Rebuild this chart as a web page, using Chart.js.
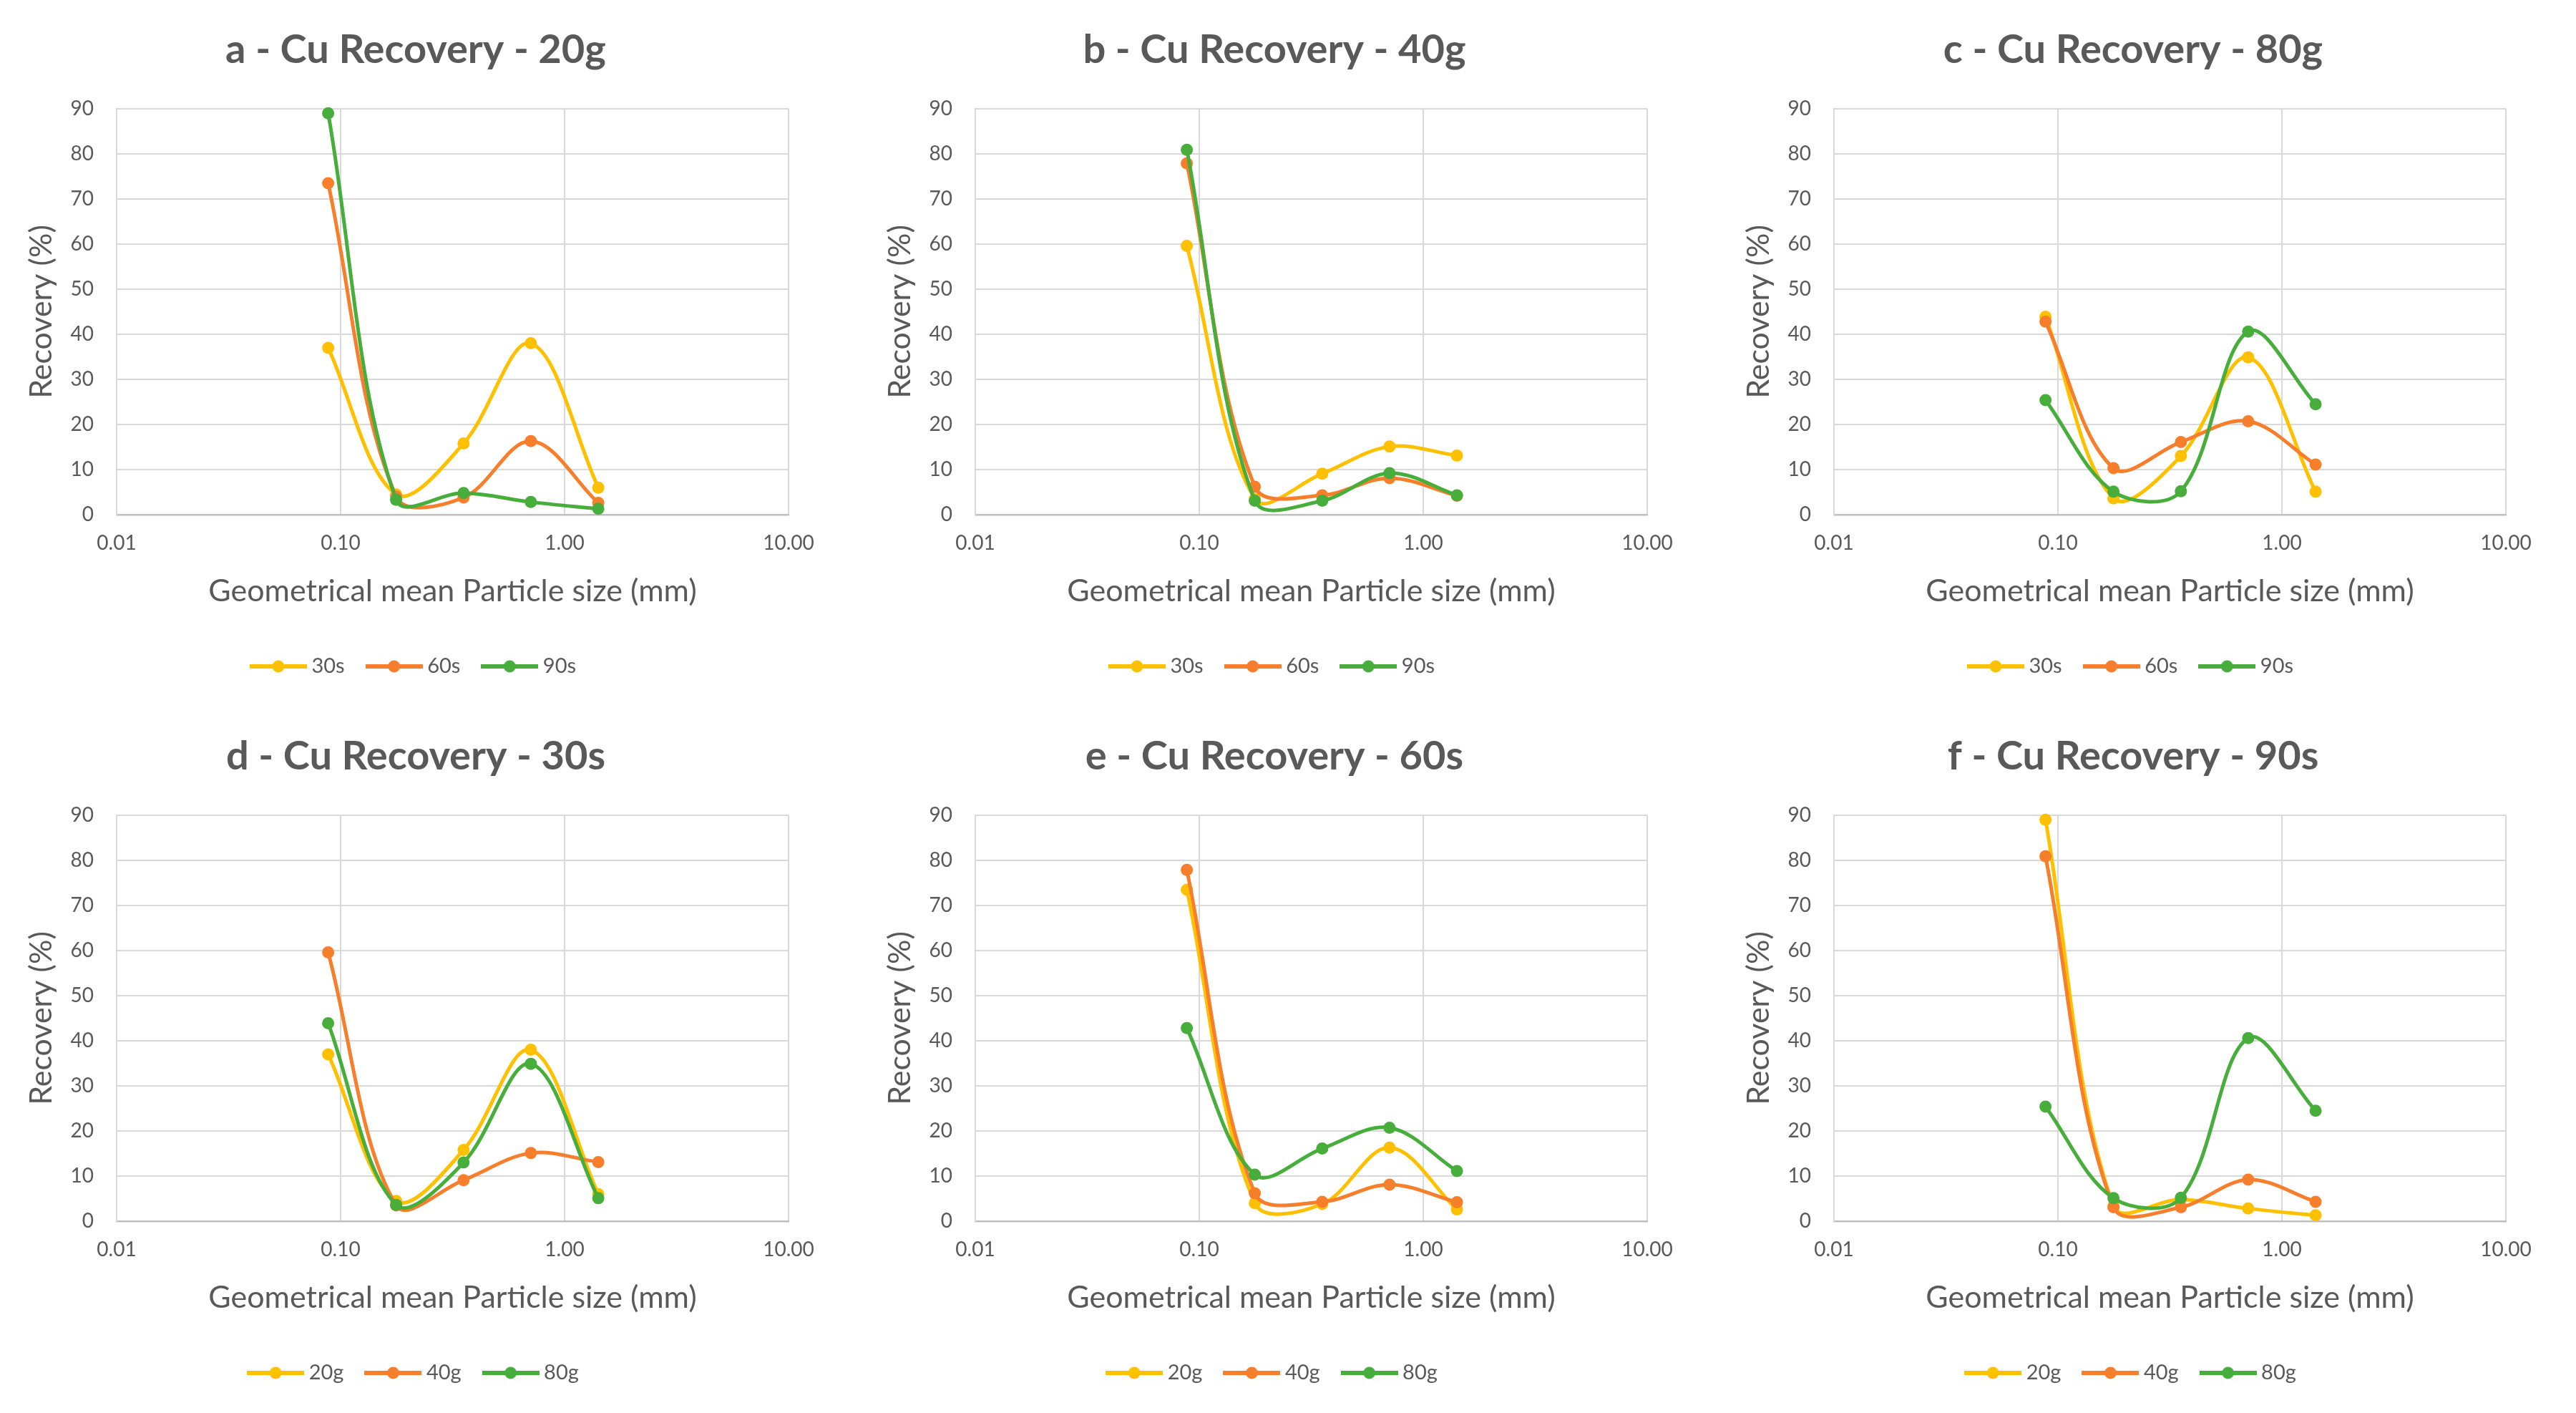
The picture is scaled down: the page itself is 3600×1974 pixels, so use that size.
<!DOCTYPE html>
<html>
<head>
<meta charset="utf-8">
<script src="https://cdn.jsdelivr.net/npm/chart.js@4.4.1/dist/chart.umd.min.js"></script>
<style>
  html, body { margin: 0; padding: 0; background: #fff; }
  #grid {
    display: grid;
    grid-template-columns: repeat(3, 1200px);
    grid-template-rows: repeat(2, 987px);
    width: 3600px;
    height: 1974px;
  }
  .cell { width: 1200px; height: 987px; }
</style>
</head>
<body>
<div id="grid">
  <div class="cell"><canvas id="chartA" width="1200" height="987"></canvas></div>
  <div class="cell"><canvas id="chartB" width="1200" height="987"></canvas></div>
  <div class="cell"><canvas id="chartC" width="1200" height="987"></canvas></div>
  <div class="cell"><canvas id="chartD" width="1200" height="987"></canvas></div>
  <div class="cell"><canvas id="chartE" width="1200" height="987"></canvas></div>
  <div class="cell"><canvas id="chartF" width="1200" height="987"></canvas></div>
</div>
<script>
// geometrical mean particle size of each sieve fraction (mm)
const particleSize = [0.088, 0.177, 0.354, 0.707, 1.414];
const xTickValues = [0.01, 0.1, 1, 10];
const yTickMax = 90;

// Cu recovery (%) by feed mass and flotation time
const rec20g30s = [37, 4.5, 15.8, 38, 6];
const rec20g60s = [73.5, 4, 3.8, 16.3, 2.6];
const rec20g90s = [89, 3.3, 4.8, 2.8, 1.3];
const rec40g30s = [59.6, 3.5, 9.1, 15.1, 13.1];
const rec40g60s = [77.9, 6.2, 4.3, 8.1, 4.2];
const rec40g90s = [80.9, 3.1, 3.1, 9.2, 4.3];
const rec80g30s = [43.9, 3.6, 13, 34.9, 5.1];
const rec80g60s = [42.8, 10.3, 16.1, 20.7, 11.1];
const rec80g90s = [25.4, 5.1, 5.2, 40.6, 24.5];

const YELLOW = '#FFC000';
const ORANGE = '#F77E2B';
const GREEN = '#47AD3B';
const TEXT = '#595959';
const FONT = 'Lato, "Open Sans", sans-serif';

const panels = [
  { id: 'chartA', title: 'a - Cu Recovery - 20g',
    series: [['30s', rec20g30s, YELLOW], ['60s', rec20g60s, ORANGE], ['90s', rec20g90s, GREEN]] },
  { id: 'chartB', title: 'b - Cu Recovery - 40g',
    series: [['30s', rec40g30s, YELLOW], ['60s', rec40g60s, ORANGE], ['90s', rec40g90s, GREEN]] },
  { id: 'chartC', title: 'c - Cu Recovery - 80g',
    series: [['30s', rec80g30s, YELLOW], ['60s', rec80g60s, ORANGE], ['90s', rec80g90s, GREEN]] },
  { id: 'chartD', title: 'd - Cu Recovery - 30s',
    series: [['20g', rec20g30s, YELLOW], ['40g', rec40g30s, ORANGE], ['80g', rec80g30s, GREEN]] },
  { id: 'chartE', title: 'e - Cu Recovery - 60s',
    series: [['20g', rec20g60s, YELLOW], ['40g', rec40g60s, ORANGE], ['80g', rec80g60s, GREEN]] },
  { id: 'chartF', title: 'f - Cu Recovery - 90s',
    series: [['20g', rec20g90s, YELLOW], ['40g', rec40g90s, ORANGE], ['80g', rec80g90s, GREEN]] },
];

// line-with-marker swatch used in the legend, like Excel draws it
const swatches = {};
function legendSwatch(color) {
  if (swatches[color]) return swatches[color];
  const c = document.createElement('canvas');
  c.width = 80;
  c.height = 20;
  const ctx = c.getContext('2d');
  ctx.strokeStyle = color;
  ctx.lineWidth = 6;
  ctx.beginPath();
  ctx.moveTo(0, 10);
  ctx.lineTo(80, 10);
  ctx.stroke();
  ctx.fillStyle = color;
  ctx.beginPath();
  ctx.arc(40, 10, 8.5, 0, Math.PI * 2);
  ctx.fill();
  swatches[color] = c;
  return c;
}

function buildChart(panel) {
  const datasets = panel.series.map(([label, values, color], i) => ({
    label,
    data: particleSize.map((x, k) => ({ x, y: values[k] })),
    borderColor: color,
    backgroundColor: color,
    pointBackgroundColor: color,
    pointBorderWidth: 0,
    pointRadius: 8.5,
    borderWidth: 5,
    showLine: true,
    tension: 0.35,
    clip: 3,
    order: panel.series.length - i, // later series on top, as in Excel
  }));

  return new Chart(document.getElementById(panel.id), {
    type: 'scatter',
    data: { datasets },
    options: {
      responsive: false,
      animation: false,
      devicePixelRatio: 1,
      events: [],
      layout: { padding: { left: 0, right: 38, top: 0, bottom: 31.5 } },
      elements: { line: { capBezierPoints: false } },
      plugins: {
        tooltip: { enabled: false },
        title: {
          display: true,
          text: panel.title,
          color: TEXT,
          font: { family: FONT, size: 56, weight: 'bold', lineHeight: 1.2 },
          padding: { top: 36.4, bottom: 48.4 },
        },
        legend: {
          position: 'bottom',
          labels: {
            usePointStyle: true,
            pointStyleWidth: 64,
            padding: 37,
            color: TEXT,
            font: { family: FONT, size: 29 },
            generateLabels: (chart) => chart.data.datasets.map((ds, i) => ({
              text: ds.label,
              pointStyle: legendSwatch(ds.borderColor),
              fillStyle: ds.borderColor,
              strokeStyle: ds.borderColor,
              fontColor: TEXT,
              lineWidth: 0,
              hidden: false,
              datasetIndex: i,
            })),
          },
        },
      },
      scales: {
        x: {
          type: 'logarithmic',
          min: 0.01,
          max: 10,
          afterBuildTicks: (scale) => {
            scale.ticks = xTickValues.map((v) => ({ value: v, major: true }));
          },
          afterFit: (scale) => { scale.height = 160.5; },
          ticks: {
            color: TEXT,
            padding: 23,
            font: { family: FONT, size: 28 },
            callback: (value) => Number(value).toFixed(2),
          },
          grid: { color: '#D9D9D9', lineWidth: 2, drawTicks: false },
          border: { color: '#BFBFBF', width: 2.5 },
          title: {
            display: true,
            text: 'Geometrical mean Particle size (mm)',
            color: TEXT,
            font: { family: FONT, size: 43, lineHeight: 1.2 },
            padding: { top: 0, bottom: 27.7 },
          },
        },
        y: {
          min: 0,
          max: yTickMax,
          afterFit: (scale) => { scale.width = 163; },
          ticks: {
            stepSize: 10,
            color: TEXT,
            padding: 32,
            font: { family: FONT, size: 28 },
          },
          grid: { color: '#D9D9D9', lineWidth: 2, drawTicks: false },
          border: { color: '#D9D9D9', width: 2 },
          title: {
            display: true,
            text: 'Recovery (%)',
            color: TEXT,
            font: { family: FONT, size: 43, lineHeight: 1.2 },
            padding: { top: 32.2, bottom: 0 },
          },
        },
        // empty right-hand axis: keeps the plot area where Excel put it
        // while the title and legend centre on the wider chart box
        y2: {
          position: 'right',
          display: true,
          afterFit: (scale) => { scale.width = 60; },
          ticks: { display: false },
          grid: { display: false, drawTicks: false },
          border: { display: false },
        },
      },
    },
  });
}

panels.forEach(buildChart);
</script>
</body>
</html>
